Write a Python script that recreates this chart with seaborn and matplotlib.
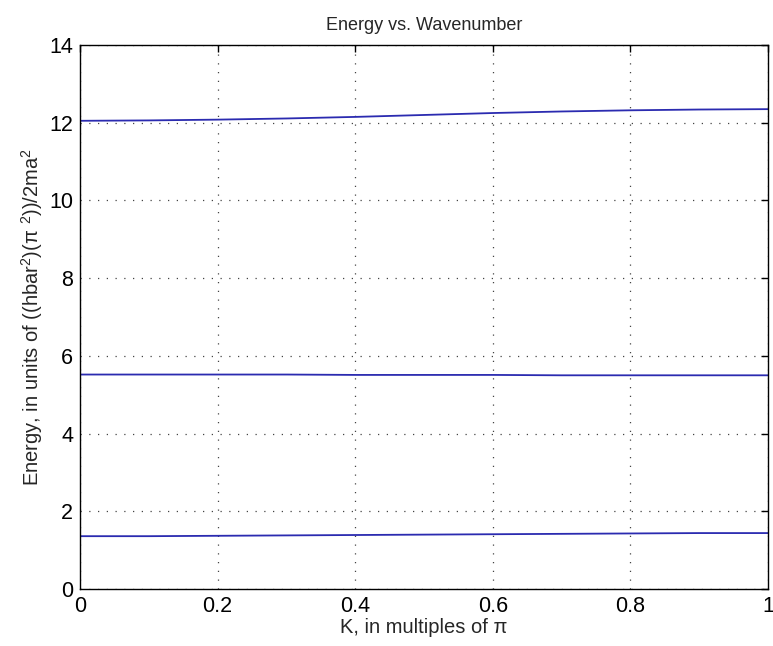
import matplotlib
matplotlib.use("Agg")
import matplotlib.pyplot as plt
import seaborn as sns
import pandas as pd

k_values = [0.0, 0.1, 0.2, 0.3, 0.4, 0.5, 0.6, 0.7, 0.8, 0.9, 1.0]
band1 = [1.36, 1.36, 1.37, 1.38, 1.39, 1.40, 1.41, 1.42, 1.43, 1.44, 1.44]
band2 = [5.52, 5.52, 5.52, 5.52, 5.51, 5.51, 5.51, 5.50, 5.50, 5.50, 5.50]
band3 = [12.05, 12.06, 12.08, 12.11, 12.15, 12.20, 12.25, 12.29, 12.32, 12.34, 12.35]
x_ticks = [0, 0.2, 0.4, 0.6, 0.8, 1]
y_ticks = [0, 2, 4, 6, 8, 10, 12, 14]

rows = []
for name, vals in [("band1", band1), ("band2", band2), ("band3", band3)]:
    for k, e in zip(k_values, vals):
        rows.append({"K": k, "E": e, "band": name})
df = pd.DataFrame(rows)

sns.set_style("white")
plt.rcParams['font.family'] = ['Liberation Sans', 'DejaVu Sans']
plt.rcParams['mathtext.fontset'] = 'custom'
plt.rcParams['mathtext.rm'] = 'Liberation Sans'

fig = plt.figure(figsize=(7.73, 6.46), dpi=100)
ax = fig.add_axes([0.1035, 0.0882, 0.89, 0.8421])

line_color = "#2b2bb0"
sns.lineplot(data=df, x="K", y="E", hue="band",
             palette=[line_color, line_color, line_color],
             legend=False, ax=ax, linewidth=1.3)

ax.set_xlim(0, 1)
ax.set_ylim(0, 14)
ax.set_xticks(x_ticks)
ax.set_xticklabels([f"{t:g}" for t in x_ticks])
ax.set_yticks(y_ticks)
ax.grid(True, linestyle=(0, (1, 6)), color="#444444", linewidth=0.9)
for s in ax.spines.values():
    s.set_visible(True)
    s.set_color("black")
    s.set_linewidth(1.0)
ax.tick_params(direction="in", length=5, width=1, labelsize=15.5,
               top=True, right=True, pad=5, colors="black")
ax.set_title("Energy vs. Wavenumber", fontsize=13, pad=11)
ax.set_xlabel("K, in multiples of π", fontsize=14.5, labelpad=1)
ax.set_ylabel(r"Energy, in units of ((hbar$^\mathrm{2}$)(π $^\mathrm{2}$))/2ma$^\mathrm{2}$",
              fontsize=14.5, labelpad=3)

fig.savefig("out.png", dpi=100)
